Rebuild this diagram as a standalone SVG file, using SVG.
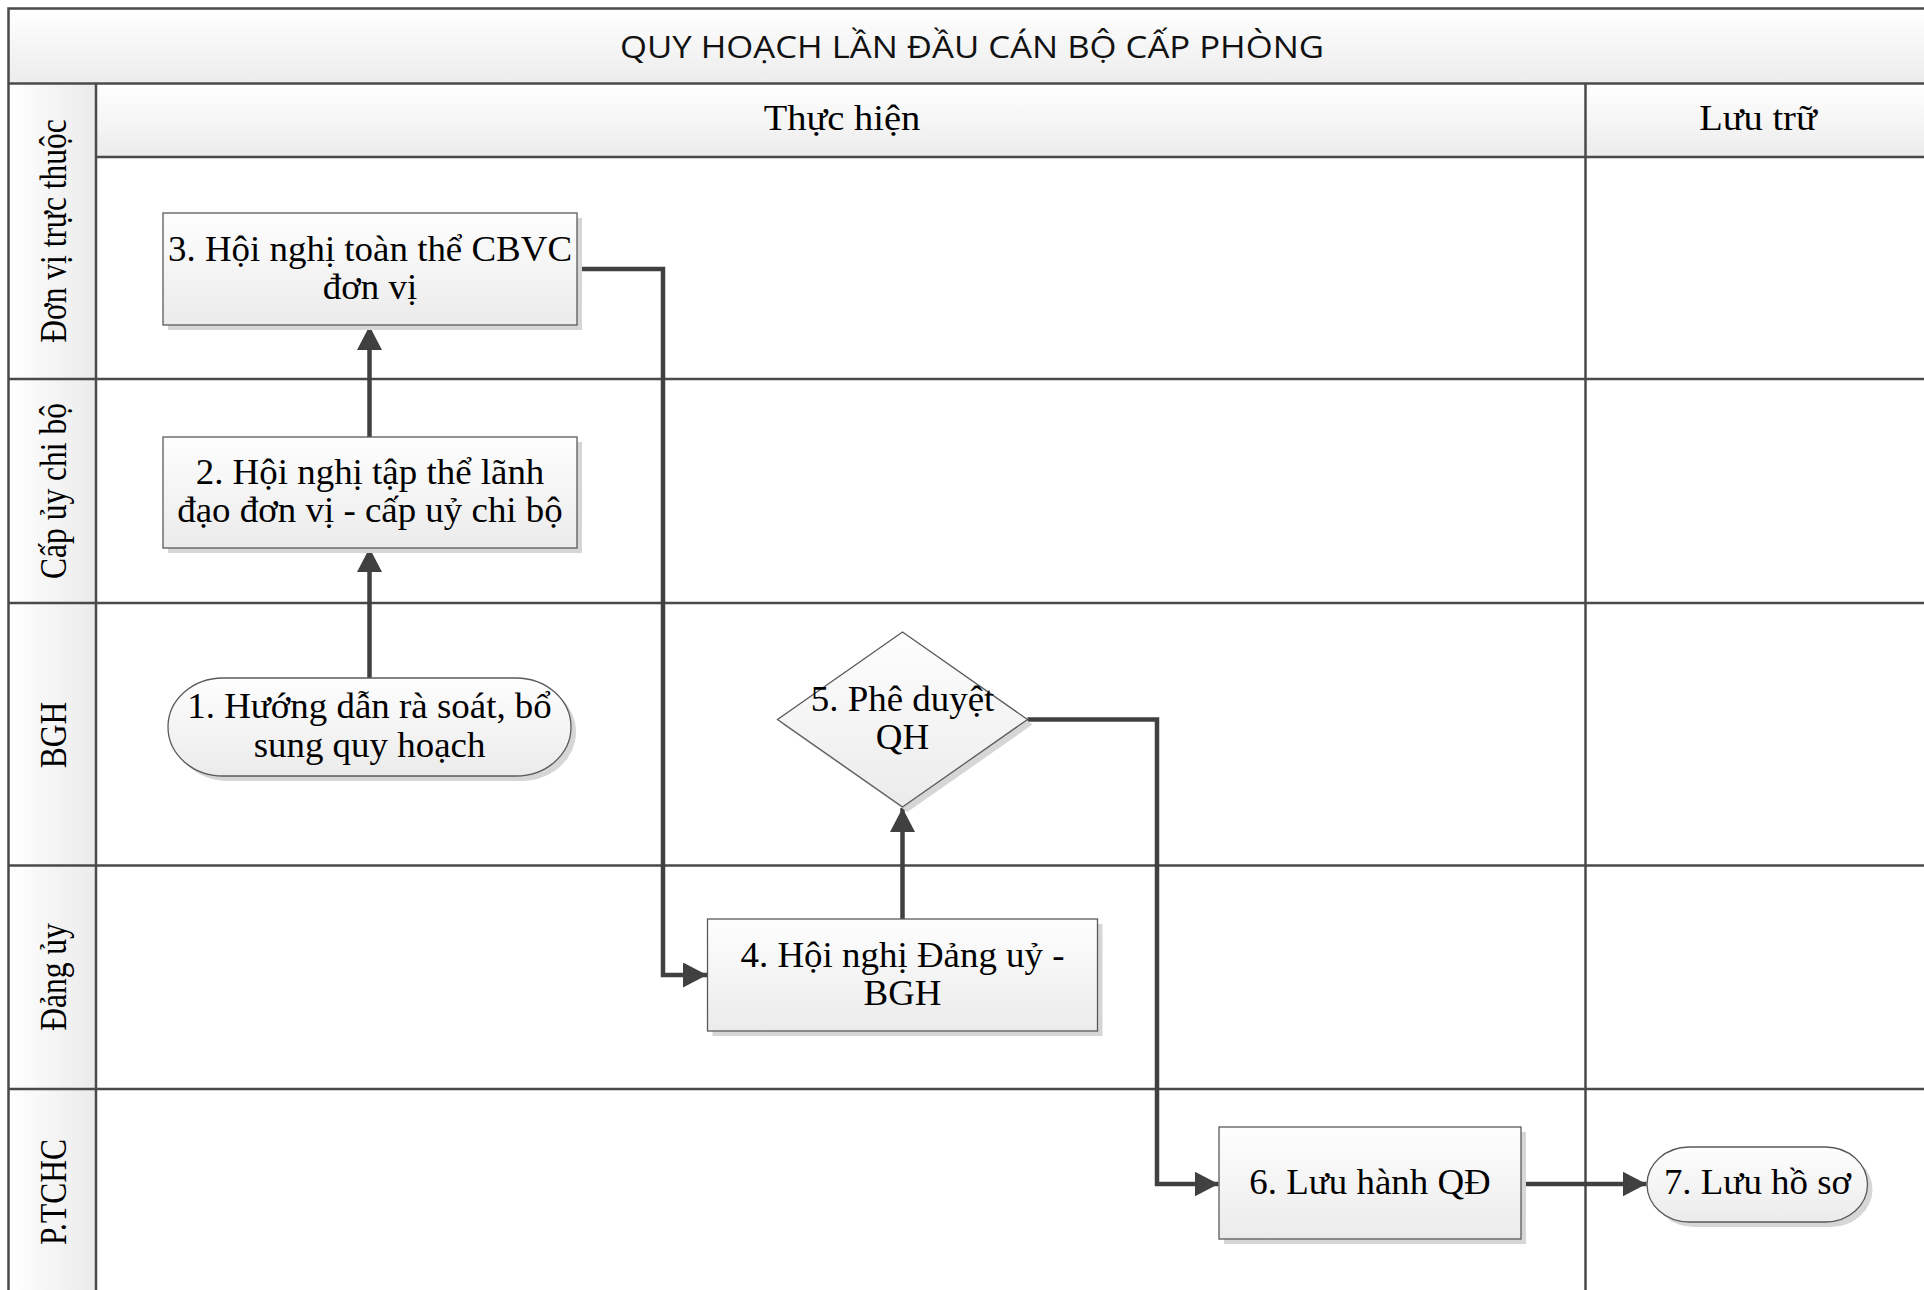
<svg xmlns="http://www.w3.org/2000/svg" width="1924" height="1290" viewBox="0 0 1924 1290">
<defs>
  <linearGradient id="gBox" x1="0" y1="0" x2="0" y2="1">
    <stop offset="0" stop-color="#fefefe"/>
    <stop offset="1" stop-color="#ebebeb"/>
  </linearGradient>
  <linearGradient id="gHead" x1="0" y1="0" x2="0" y2="1">
    <stop offset="0" stop-color="#ffffff"/>
    <stop offset="1" stop-color="#ececec"/>
  </linearGradient>
  <linearGradient id="gLane" x1="0" y1="0" x2="1" y2="0">
    <stop offset="0" stop-color="#ffffff"/>
    <stop offset="1" stop-color="#ebebeb"/>
  </linearGradient>
  <marker id="arrow" markerUnits="userSpaceOnUse" markerWidth="28" markerHeight="28" refX="24" refY="12.5" orient="auto">
    <path d="M0,0 L24,12.5 L0,25 Z" fill="#404040"/>
  </marker>
</defs>
<style>
  .grid { stroke: #4a4a4a; stroke-width: 2.5; fill: none; }
  .box { fill: url(#gBox); stroke: #5a5a5a; stroke-width: 1.3; }
  .shadow { fill: #d6d6d6; }
  .conn { stroke: #404040; stroke-width: 4.5; fill: none; marker-end: url(#arrow); }
  .t { font-family: "Liberation Serif", "Times New Roman", serif; font-size: 35px; fill: #000; text-anchor: middle; }
  .th { font-family: "Liberation Serif", "Times New Roman", serif; font-size: 35px; fill: #000; text-anchor: middle; }
  .lane { font-family: "Liberation Serif", "Times New Roman", serif; font-size: 31.5px; fill: #000; text-anchor: middle; }
  .title { font-family: "Open Sans", "Liberation Sans", sans-serif; font-size: 30.5px; fill: #111; text-anchor: middle; }
</style>
<rect x="0" y="0" width="1924" height="1290" fill="#ffffff"/>

<g id="pool">
  <rect x="8.5" y="8.5" width="1923" height="75" fill="url(#gHead)"/>
  <rect x="96" y="83.5" width="1835" height="73.5" fill="url(#gHead)"/>
  <rect x="8.5" y="83.5" width="87.5" height="1215" fill="url(#gLane)"/>
  <rect x="8.5" y="8.5" width="1923" height="1295" class="grid"/>
  <line x1="8.5" y1="83.5" x2="1931" y2="83.5" class="grid"/>
  <line x1="96" y1="157" x2="1931" y2="157" class="grid"/>
  <line x1="96" y1="83.5" x2="96" y2="1300" class="grid"/>
  <line x1="1585.5" y1="83.5" x2="1585.5" y2="1300" class="grid"/>
  <line x1="8.5" y1="379" x2="1931" y2="379" class="grid"/>
  <line x1="8.5" y1="603" x2="1931" y2="603" class="grid"/>
  <line x1="8.5" y1="865.5" x2="1931" y2="865.5" class="grid"/>
  <line x1="8.5" y1="1089" x2="1931" y2="1089" class="grid"/>
  <text class="title" x="972" y="57.5" textLength="704" lengthAdjust="spacingAndGlyphs">QUY HOẠCH LẦN ĐẦU CÁN BỘ CẤP PHÒNG</text>
  <text class="th" transform="translate(842,130) scale(1.1,1)">Thực hiện</text>
  <text class="th" transform="translate(1758,130) scale(1.1,1)">Lưu trữ</text>
  <text class="lane" transform="translate(65.5,231) scale(1.2,1) rotate(-90)">Đơn vị trực thuộc</text>
  <text class="lane" transform="translate(65.5,491) scale(1.2,1) rotate(-90)">Cấp ủy chi bộ</text>
  <text class="lane" transform="translate(65.5,735) scale(1.2,1) rotate(-90)">BGH</text>
  <text class="lane" transform="translate(65.5,977) scale(1.2,1) rotate(-90)">Đảng ủy</text>
  <text class="lane" transform="translate(65.5,1192) scale(1.2,1) rotate(-90)">P.TCHC</text>
</g>

<g id="connectors">
  <path class="conn" d="M369.5,678 V548"/>
  <path class="conn" d="M369.5,437 V326"/>
  <path class="conn" d="M577.5,269 H663 V975 H707"/>
  <path class="conn" d="M902.5,919 V808"/>
  <path class="conn" d="M1027.5,719.5 H1157 V1184 H1218.5"/>
  <path class="conn" d="M1521,1184 H1646.5"/>
</g>

<g id="node1">
  <rect class="shadow" x="173" y="683" width="403" height="98" rx="55" ry="49"/>
  <rect class="box" x="168" y="678" width="403" height="98" rx="55" ry="49"/>
  <text class="t" transform="translate(369.5,0) scale(1.055,1)"><tspan x="0" y="718.5">1. Hướng dẫn rà soát, bổ</tspan><tspan x="0" y="757">sung quy hoạch</tspan></text>
</g>

<g id="node2">
  <rect class="shadow" x="168" y="442" width="414" height="111"/>
  <rect class="box" x="163" y="437" width="414" height="111"/>
  <text class="t" transform="translate(370,0) scale(1.055,1)"><tspan x="0" y="484">2. Hội nghị tập thể lãnh</tspan><tspan x="0" y="522.5">đạo đơn vị - cấp uỷ chi bộ</tspan></text>
</g>

<g id="node3">
  <rect class="shadow" x="168" y="218" width="414" height="112"/>
  <rect class="box" x="163" y="213" width="414" height="112"/>
  <text class="t" transform="translate(370,0) scale(1.055,1)"><tspan x="0" y="261">3. Hội nghị toàn thể CBVC</tspan><tspan x="0" y="299.5">đơn vị</tspan></text>
</g>

<g id="node4">
  <rect class="shadow" x="712.5" y="924" width="390" height="112"/>
  <rect class="box" x="707.5" y="919" width="390" height="112"/>
  <text class="t" transform="translate(902.5,0) scale(1.055,1)"><tspan x="0" y="967">4. Hội nghị Đảng uỷ -</tspan><tspan x="0" y="1005.5">BGH</tspan></text>
</g>

<g id="node5">
  <polygon class="shadow" points="907.5,637 1032.5,724.5 907.5,812 782.5,724.5"/>
  <polygon class="box" points="902.5,632 1027.5,719.5 902.5,807 777.5,719.5"/>
  <text class="t" transform="translate(902.5,0) scale(1.055,1)"><tspan x="0" y="711">5. Phê duyệt</tspan><tspan x="0" y="749.5">QH</tspan></text>
</g>

<g id="node6">
  <rect class="shadow" x="1224" y="1132" width="302" height="112"/>
  <rect class="box" x="1219" y="1127" width="302" height="112"/>
  <text class="t" transform="translate(1370,1194) scale(1.055,1)">6. Lưu hành QĐ</text>
</g>

<g id="node7">
  <rect class="shadow" x="1652" y="1152" width="220.5" height="75" rx="42" ry="37.5"/>
  <rect class="box" x="1647" y="1147" width="220.5" height="75" rx="42" ry="37.5"/>
  <text class="t" transform="translate(1757.5,1194) scale(1.055,1)">7. Lưu hồ sơ</text>
</g>
</svg>
